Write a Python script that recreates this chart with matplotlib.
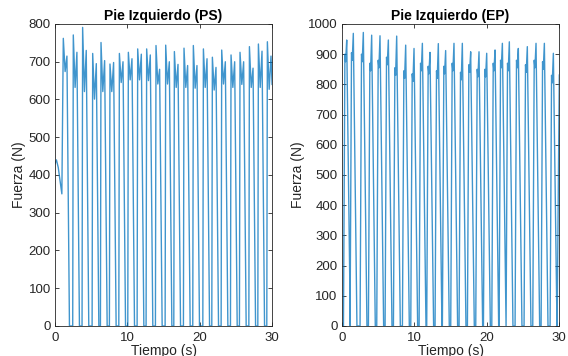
import matplotlib
matplotlib.use("Agg")
import matplotlib.pyplot as plt

plt.rcParams["font.family"] = ["Liberation Sans", "DejaVu Sans"]

# left foot, PS insole: peak times (s) and forces (N) per step
ps_peak_t = [1.15, 2.53, 3.82, 5.21, 6.36, 7.60, 8.90, 10.14, 11.43, 12.67,
             13.96, 15.30, 16.50, 17.83, 19.12, 20.51, 21.75, 23.04, 24.33,
             25.57, 26.87, 28.11, 29.35]
ps_peak1 = [762, 771, 791, 722, 751, 694, 722, 725, 734, 734, 743, 744, 727,
            736, 743, 734, 712, 731, 718, 725, 740, 747, 753]
ps_valley = [674, 632, 621, 601, 621, 621, 645, 652, 652, 650, 641, 641, 632,
             632, 630, 632, 625, 641, 632, 640, 632, 632, 627]
ps_peak2 = [715, 725, 730, 695, 703, 698, 700, 708, 720, 718, 680, 700, 693,
            690, 690, 708, 685, 700, 700, 700, 683, 728, 715]
ps_start_t = [0.0, 0.2, 0.45, 0.95]
ps_start_v = [430, 440, 420, 350]

# left foot, EP insole
ep_peak_t = [0.69, 1.60, 2.98, 4.13, 5.28, 6.43, 7.58, 8.82, 9.97, 11.12,
             12.17, 13.32, 14.33, 15.48, 16.63, 17.78, 18.93, 19.99, 21.14,
             22.15, 23.11, 24.35, 25.59, 26.79, 27.94, 29.18]
ep_peak = [947, 969, 972, 963, 961, 947, 960, 930, 919, 936, 906, 935, 912,
           936, 936, 908, 908, 903, 914, 936, 941, 919, 925, 936, 936, 903]
ep_bump = [900, 905, 900, 870, 880, 890, 855, 845, 835, 870, 860, 845, 860,
           870, 840, 865, 850, 850, 870, 880, 870, 880, 865, 880, 875, 830]
ep_end_t = [29.70, 30.0]
ep_end_v = [0, 831]


def ps_trace():
    t = list(ps_start_t)
    v = list(ps_start_v)
    for i, tp in enumerate(ps_peak_t):
        if i > 0:
            t += [tp - 0.08]
            v += [0]
        t += [tp, tp + 0.25, tp + 0.5]
        v += [ps_peak1[i], ps_valley[i], ps_peak2[i]]
        if i < len(ps_peak_t) - 1:
            t += [tp + 0.85]
            v += [0]
        else:
            t += [30.0]
            v += [640]
    return t, v


def ep_trace():
    t = [0.0]
    v = [0]
    for i, tp in enumerate(ep_peak_t):
        t += [max(tp - 0.45, 0.02), tp - 0.25, tp - 0.15, tp]
        v += [0, ep_bump[i], ep_bump[i] - 25, ep_peak[i]]
        t += [tp + 0.5]
        v += [0]
    t += ep_end_t
    v += ep_end_v
    return t, v


fig = plt.figure(figsize=(5.68, 3.56), dpi=100)
ax1 = fig.add_axes([0.0968, 0.0843, 0.3822, 0.8483])
ax2 = fig.add_axes([0.6016, 0.0843, 0.3831, 0.8483])

for ax, (t, v), title, ymax in [
    (ax1, ps_trace(), "Pie Izquierdo (PS)", 800),
    (ax2, ep_trace(), "Pie Izquierdo (EP)", 1000),
]:
    ax.plot(t, v, color="#0072BD", linewidth=1.0, alpha=0.75)
    ax.set_xlim(0, 30)
    ax.set_ylim(0, ymax)
    ax.set_xticks([0, 10, 20, 30])
    ax.set_yticks(range(0, ymax + 1, 100))
    ax.tick_params(direction="in", top=True, right=True, length=3,
                   width=0.6, labelsize=9.5, colors="#262626", pad=3)
    ax.tick_params(axis="x", pad=4)
    for s in ax.spines.values():
        s.set_linewidth(0.6)
        s.set_color("#262626")
    ax.set_title(title, fontsize=10, fontweight="bold", pad=3)
    ax.set_xlabel("Tiempo (s)", fontsize=10, color="#262626", labelpad=0)
    ax.set_ylabel("Fuerza (N)", fontsize=10, color="#262626", labelpad=2)

fig.savefig("out.png", dpi=100)
